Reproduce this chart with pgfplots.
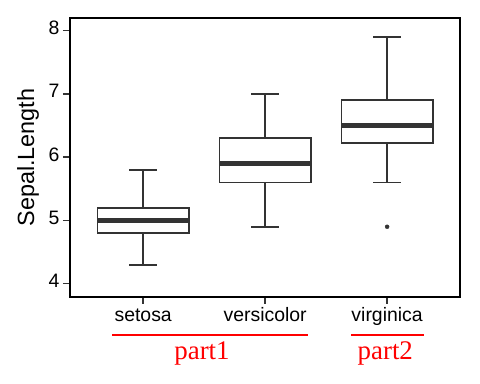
\documentclass[border=0pt]{standalone}
\usepackage{pgfplots}
\pgfplotsset{compat=1.18}
\usepgfplotslibrary{statistics}
\usepackage{fontspec}
\setmainfont{Liberation Sans}
\newfontfamily\seriffont{Liberation Serif}
\definecolor{c333}{HTML}{333333}
\begin{document}
\begin{tikzpicture}
\path[use as bounding box] (0bp,0bp) rectangle (480bp,-384bp);
\begin{axis}[
  at={(70bp,-296.7bp)}, anchor=south west,
  scale only axis, width=390.3bp, height=278.4bp,
  xmin=-0.6, xmax=2.6, ymin=3.794, ymax=8.196,
  xtick={0,1,2}, xticklabels={setosa,versicolor,virginica},
  ytick={4,5,6,7,8},
  axis line style={line width=2bp, black},
  tick align=outside, tick pos=left,
  major tick length=7bp,
  major tick style={line width=1.4bp, color=c333},
  tick label style={font=\fontsize{19.5}{20}\selectfont, color=black},
  xticklabel style={typeset ticklabels with strut},
  /pgf/number format/assume math mode=true,
  ylabel={Sepal.Length},
  every axis y label/.style={at={(rel axis cs:0,0.5)}, xshift=-42bp, rotate=90, anchor=center, font=\fontsize{23.5}{24}\selectfont},
  clip=false,
  boxplot/draw direction=y,
  boxplot/every median/.style={line width=4.5bp},
]
\addplot[draw=c333, line width=1.6bp, fill=white,
  boxplot prepared={lower whisker=4.3, lower quartile=4.8, median=5.0, upper quartile=5.2, upper whisker=5.8, draw position=0, box extend=0.75, whisker extend=0.225}] coordinates {};
\addplot[draw=c333, line width=1.6bp, fill=white,
  boxplot prepared={lower whisker=4.9, lower quartile=5.6, median=5.9, upper quartile=6.3, upper whisker=7.0, draw position=1, box extend=0.75, whisker extend=0.225}] coordinates {};
\addplot[draw=c333, line width=1.6bp, fill=white,
  boxplot prepared={lower whisker=5.6, lower quartile=6.225, median=6.5, upper quartile=6.9, upper whisker=7.9, draw position=2, box extend=0.75, whisker extend=0.225}] coordinates {};
\addplot[only marks, mark=*, mark size=2bp, color=c333] coordinates {(2,4.9)};
\end{axis}
\draw[red, line width=2bp] (112bp,-335bp) -- (307.7bp,-335bp);
\draw[red, line width=2bp] (351bp,-335bp) -- (423.7bp,-335bp);
\node[anchor=base, red, inner sep=0pt, font=\seriffont\fontsize{27}{30}\selectfont] at (202bp,-359.3bp) {part1};
\node[anchor=base, red, inner sep=0pt, font=\seriffont\fontsize{27}{30}\selectfont] at (385.3bp,-359.3bp) {part2};
\end{tikzpicture}
\end{document}
